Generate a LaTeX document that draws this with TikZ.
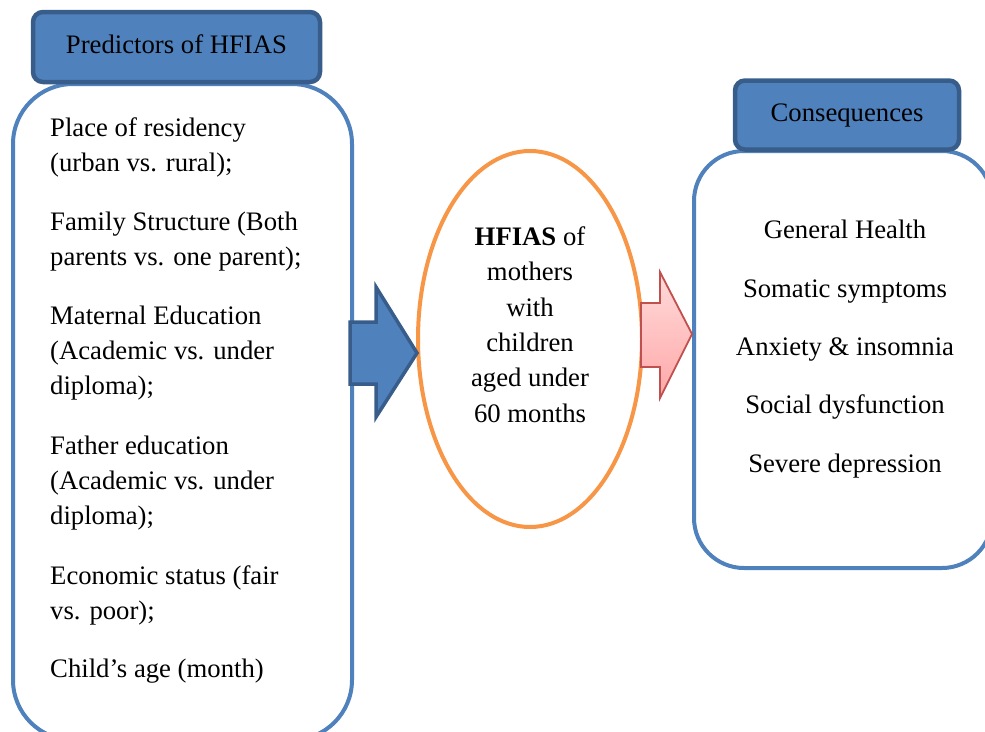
\documentclass[tikz,border=0pt]{standalone}
\usepackage{fontspec}
\setmainfont{Liberation Serif}
\usetikzlibrary{shapes.geometric}
\definecolor{boxblue}{HTML}{4F81BD}
\definecolor{darkblue}{HTML}{385D8A}
\definecolor{ellorange}{HTML}{F79646}
\definecolor{pinkedge}{HTML}{C0504D}
\definecolor{pinktop}{HTML}{FFDADA}
\definecolor{pinkbot}{HTML}{FFA8A8}
\begin{document}
\begin{tikzpicture}[x=1pt,y=-1pt,
  txt/.style={inner sep=0pt, font=\fontsize{26.7}{35.3}\selectfont},
  bigbox/.style={draw=boxblue, line width=4pt, fill=white, rounded corners=#1, inner sep=0pt},
  hdrbox/.style={draw=darkblue, line width=4.5pt, fill=boxblue, rounded corners=10pt, inner sep=0pt,
    text height=18.5pt, text depth=6.5pt, font=\fontsize{26.7}{32}\selectfont},
  bluearrow/.style={draw=darkblue, fill=boxblue, line width=3.5pt, line join=miter},
  pinkarrow/.style={draw=pinkedge, top color=pinktop, bottom color=pinkbot, line width=1.8pt, line join=miter}
]
\useasboundingbox (0,0) rectangle (985,731);
\begin{scope}
\clip (0,0) rectangle (985,731);
% left big box
\node[bigbox=60pt, minimum width=339pt, minimum height=656pt] (left) at (182.5,412) {};
% ellipse
\node[ellipse, draw=ellorange, line width=4pt, fill=white, minimum width=224pt, minimum height=376pt, inner sep=0pt] (hfias) at (530,339) {};
% right big box
\node[bigbox=50pt, minimum width=298pt, minimum height=417pt] (right) at (843,359.5) {};
% arrows
\draw[bluearrow] (350,322) -- (376,322) -- (376,287) -- (417,353) -- (376,417) -- (376,384) -- (350,384) -- cycle;
\draw[pinkarrow] (641,303) -- (660,303) -- (660,272) -- (692,334) -- (660,398) -- (660,367) -- (641,367) -- cycle;
% headers
\node[hdrbox, minimum width=287pt, minimum height=70pt] (hdrL) at (176.5,47) {Predictors of HFIAS};
\node[hdrbox, minimum width=224pt, minimum height=69pt] (hdrR) at (847,115) {Consequences};
\end{scope}
% left texts (anchor at baseline of last line)
\node[txt, anchor=base west, align=left] (p1) at (50,171.3) {Place of residency\\(urban vs. rural);};
\node[txt, anchor=base west, align=left] (p2) at (50,265.3) {Family Structure (Both\\parents vs. one parent);};
\node[txt, anchor=base west, align=left] (p3) at (50,394.6) {Maternal Education\\(Academic vs. under\\diploma);};
\node[txt, anchor=base west, align=left] (p4) at (50,524.6) {Father education\\(Academic vs. under\\diploma);};
\node[txt, anchor=base west, align=left] (p5) at (50,619.3) {Economic status (fair\\vs. poor);};
\node[txt, anchor=base west, align=left] (p6) at (50,677) {Child’s age (month)};
% ellipse text
\node[txt, anchor=base, align=center] (e1) at (530,422) {\textbf{HFIAS} of\\mothers\\with\\children\\aged under\\60 months};
% right texts
\node[txt, anchor=base] (c1) at (845,238) {General Health};
\node[txt, anchor=base] (c2) at (845,297) {Somatic symptoms};
\node[txt, anchor=base] (c3) at (845,355) {Anxiety \& insomnia};
\node[txt, anchor=base] (c4) at (845,413) {Social dysfunction};
\node[txt, anchor=base] (c5) at (845,472) {Severe depression};
\end{tikzpicture}
\end{document}
